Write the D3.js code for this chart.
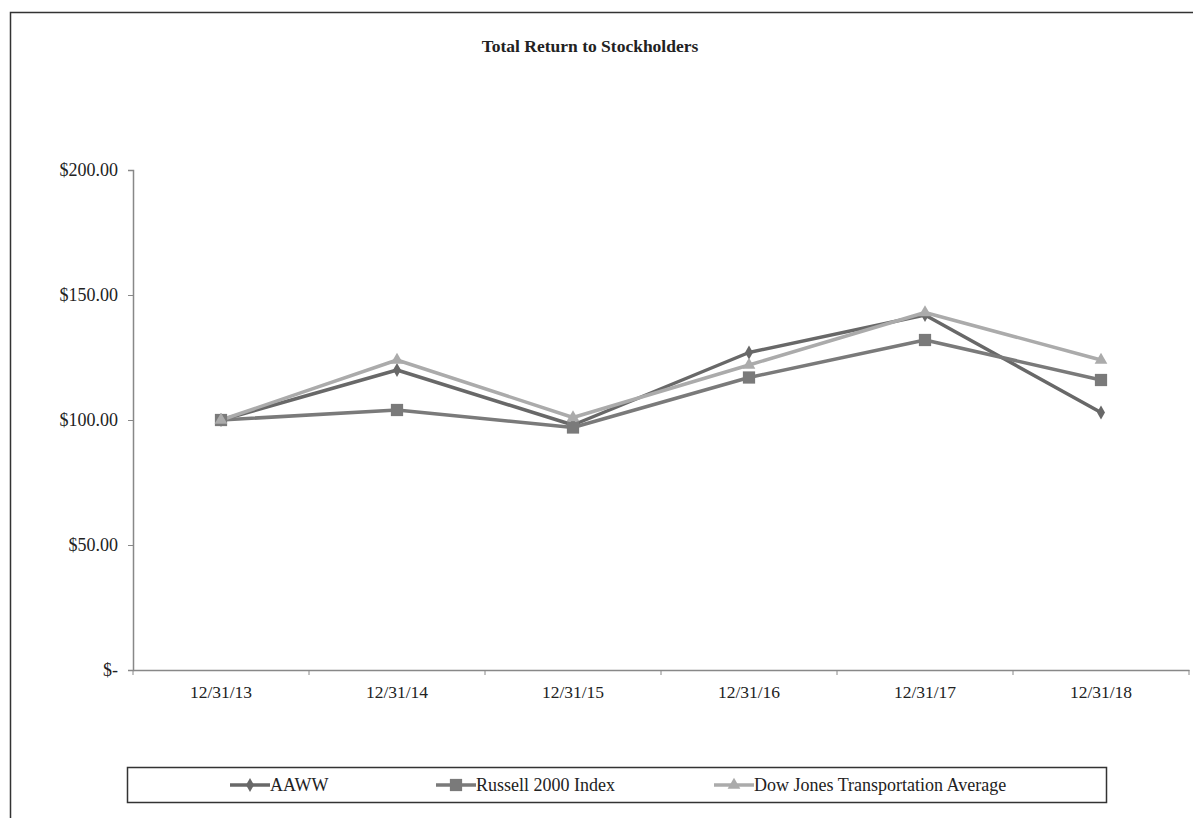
<!DOCTYPE html>
<html>
<head>
<meta charset="utf-8">
<script src="https://cdn.jsdelivr.net/npm/d3@7"></script>
<style>
  body { margin: 0; background: #fff; }
  text { font-family: "Liberation Serif", "Times New Roman", serif; fill: #222; }
</style>
</head>
<body>
<div id="chart"></div>
<script>
const dates = ["12/31/13", "12/31/14", "12/31/15", "12/31/16", "12/31/17", "12/31/18"];
const aaww = [100, 120, 98, 127, 142, 103];
const russell = [100, 104, 97, 117, 132, 116];
const dowJones = [100, 124, 101, 122, 143, 124];
const yTicks = [0, 50, 100, 150, 200];

const series = [
    {name: "AAWW", values: aaww, color: "#686868", marker: "diamond"},
    {name: "Russell 2000 Index", values: russell, color: "#7a7a7a", marker: "square"},
    {name: "Dow Jones Transportation Average", values: dowJones, color: "#ababab", marker: "triangle"}
];

const width = 1193, height = 818;
const margin = {top: 170, right: 4, bottom: 148, left: 133};

const svg = d3.select("#chart").append("svg")
    .attr("width", width)
    .attr("height", height);

// outer frame (runs off the right and bottom edges)
svg.append("rect")
    .attr("x", 10.5).attr("y", 12.5)
    .attr("width", width + 20).attr("height", height + 20)
    .attr("fill", "none")
    .attr("stroke", "#333")
    .attr("stroke-width", 1.5);

svg.append("text")
    .attr("x", 590).attr("y", 52)
    .attr("text-anchor", "middle")
    .style("font-size", "17.5px")
    .style("font-weight", "bold")
    .text("Total Return to Stockholders");

const x = d3.scaleBand()
    .domain(dates)
    .range([margin.left, width - margin.right]);

const y = d3.scaleLinear()
    .domain([0, 200])
    .range([height - margin.bottom, margin.top]);

// y axis
const yAxis = svg.append("g")
    .attr("transform", "translate(" + margin.left + ",0)")
    .call(d3.axisLeft(y)
        .tickValues(yTicks)
        .tickSize(5)
        .tickPadding(10)
        .tickFormat(d => d === 0 ? "$-" : "$" + d.toFixed(2)));
yAxis.select(".domain").attr("stroke", "#888").attr("stroke-width", 1.5);
yAxis.selectAll(".tick line").attr("stroke", "#888");
yAxis.selectAll("text").style("font-size", "18px").style("font-family", "Liberation Serif").attr("fill", "#222");

// x axis
const xAxis = svg.append("g")
    .attr("transform", "translate(0," + y(0) + ")")
    .call(d3.axisBottom(x).tickSize(0).tickPadding(16));
xAxis.select(".domain").attr("stroke", "#888").attr("stroke-width", 1.5);
xAxis.selectAll("text").style("font-size", "17.5px").style("font-family", "Liberation Serif").attr("fill", "#222");
// category separators
const bounds = dates.map(d => x(d)).concat([x.range()[1]]);
xAxis.selectAll(".sep")
    .data(bounds)
    .enter().append("line")
    .attr("x1", d => d).attr("x2", d => d)
    .attr("y1", 0).attr("y2", 5)
    .attr("stroke", "#888");

const cx = d => x(d) + x.bandwidth() / 2;

const line = d3.line()
    .x((d, i) => cx(dates[i]))
    .y(d => y(d));

const symbolType = {diamond: d3.symbolDiamond, square: d3.symbolSquare, triangle: d3.symbolTriangle};
const symbolSize = {diamond: 55, square: 150, triangle: 70};

series.forEach(s => {
    svg.append("path")
        .datum(s.values)
        .attr("fill", "none")
        .attr("stroke", s.color)
        .attr("stroke-width", 3.5)
        .attr("stroke-linejoin", "round")
        .attr("d", line);
});

series.forEach(s => {
    svg.append("g").selectAll("path")
        .data(s.values)
        .enter().append("path")
        .attr("transform", (d, i) => "translate(" + cx(dates[i]) + "," + y(d) + ")")
        .attr("d", d3.symbol().type(symbolType[s.marker]).size(symbolSize[s.marker]))
        .attr("fill", s.color);
});

// legend
const legend = svg.append("g");
legend.append("rect")
    .attr("x", 127.5).attr("y", 767.5)
    .attr("width", 979).attr("height", 35)
    .attr("fill", "none")
    .attr("stroke", "#333")
    .attr("stroke-width", 1.5);

const legendX = [230, 436, 714];
series.forEach((s, i) => {
    const g = legend.append("g").attr("transform", "translate(" + legendX[i] + ",785)");
    g.append("line")
        .attr("x1", 0).attr("x2", 40)
        .attr("stroke", s.color).attr("stroke-width", 3.5);
    g.append("path")
        .attr("transform", "translate(20,0)")
        .attr("d", d3.symbol().type(symbolType[s.marker]).size(symbolSize[s.marker]))
        .attr("fill", s.color);
    g.append("text")
        .attr("x", 40).attr("y", 6)
        .style("font-size", "18px")
        .text(s.name);
});
</script>
</body>
</html>
